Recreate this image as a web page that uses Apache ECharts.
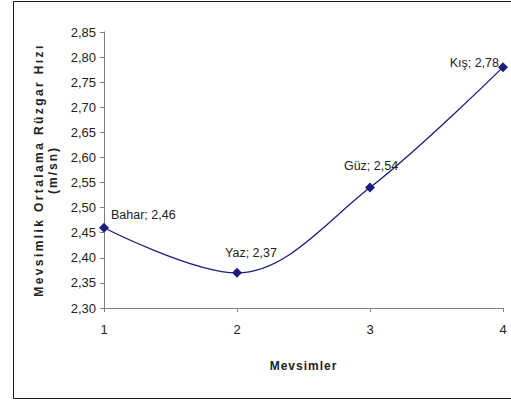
<!DOCTYPE html>
<html>
<head>
<meta charset="utf-8">
<script src="https://cdn.jsdelivr.net/npm/echarts@6/dist/echarts.min.js"></script>
<style>
  html, body { margin: 0; padding: 0; background: #fff; }
  #chart { width: 511px; height: 403px; }
</style>
</head>
<body>
<div id="chart"></div>
<script>
// Seasons, their x positions and the mean seasonal wind speed (m/s)
const seasons = ['Bahar', 'Yaz', 'Güz', 'Kış'];
const seasonIndex = [1, 2, 3, 4];
const windSpeed = [2.46, 2.37, 2.54, 2.78];
const xTicks = [1, 2, 3, 4];
const yTicks = [2.30, 2.35, 2.40, 2.45, 2.50, 2.55, 2.60, 2.65, 2.70, 2.75, 2.80, 2.85];

const yTitle = 'Mevsimlik Ortalama Rüzgar Hızı';
const yUnit = '(m/sn)';
const xTitle = 'Mevsimler';

const fmt = v => v.toFixed(2).replace('.', ',');

// per-point label placement around each marker
const labelPlacement = [
  { position: 'right', offset: [-3, -13] },
  { position: 'top', offset: [14, -3] },
  { position: 'top', offset: [1, -5] },
  { position: 'left', offset: [6, -4] }
];

const seriesData = seasons.map((name, i) => ({
  name: name,
  value: [seasonIndex[i], windSpeed[i]],
  label: labelPlacement[i]
}));

const chart = echarts.init(document.getElementById('chart'), null, { renderer: 'svg' });

chart.setOption({
  animation: false,
  backgroundColor: '#ffffff',
  textStyle: { fontFamily: 'Liberation Sans, Arial, sans-serif' },
  grid: { left: 104, right: 8, top: 32, bottom: 95, containLabel: false },
  graphic: [{
    type: 'rect',
    shape: { x: 13.5, y: 1.5, width: 520, height: 397 },
    style: { fill: 'none', stroke: '#1a1a1a', lineWidth: 1 },
    silent: true,
    z: -1
  }],
  xAxis: {
    type: 'value',
    min: xTicks[0],
    max: xTicks[xTicks.length - 1],
    interval: 1,
    name: xTitle,
    nameLocation: 'middle',
    nameGap: 52,
    nameTextStyle: { fontSize: 12, fontWeight: 'bold', color: '#222' },
    axisLine: { lineStyle: { color: '#808080', width: 1 } },
    axisTick: { show: true, inside: false, length: 4, lineStyle: { color: '#808080' } },
    axisLabel: { fontSize: 13, color: '#222', margin: 15, formatter: v => String(v) },
    splitLine: { show: false }
  },
  yAxis: {
    type: 'value',
    min: yTicks[0],
    max: yTicks[yTicks.length - 1],
    interval: 0.05,
    name: yTitle + '\n' + yUnit,
    nameLocation: 'middle',
    nameGap: 44,
    nameRotate: 90,
    nameTextStyle: { fontSize: 12, fontWeight: 'bold', color: '#222', lineHeight: 14 },
    axisLine: { show: true, lineStyle: { color: '#808080', width: 1 } },
    axisTick: { show: true, inside: false, length: 4, lineStyle: { color: '#808080' } },
    axisLabel: { fontSize: 13, color: '#222', margin: 8, formatter: v => fmt(v) },
    splitLine: { show: false }
  },
  series: [{
    type: 'line',
    data: seriesData,
    smooth: 0.35,
    symbol: 'diamond',
    symbolSize: 10,
    lineStyle: { color: '#1d1d80', width: 1.3 },
    itemStyle: { color: '#1d1d80' },
    label: {
      show: true,
      fontSize: 12.5,
      color: '#222',
      formatter: p => p.name + '; ' + fmt(p.value[1])
    }
  }]
});

// widen the spacing of the axis titles' letters
const spacing = { [yTitle]: '2.4px', [yUnit]: '2px', [xTitle]: '1px' };
document.querySelectorAll('#chart text').forEach(t => {
  const s = spacing[t.textContent];
  if (s) t.setAttribute('letter-spacing', s);
});
</script>
</body>
</html>
